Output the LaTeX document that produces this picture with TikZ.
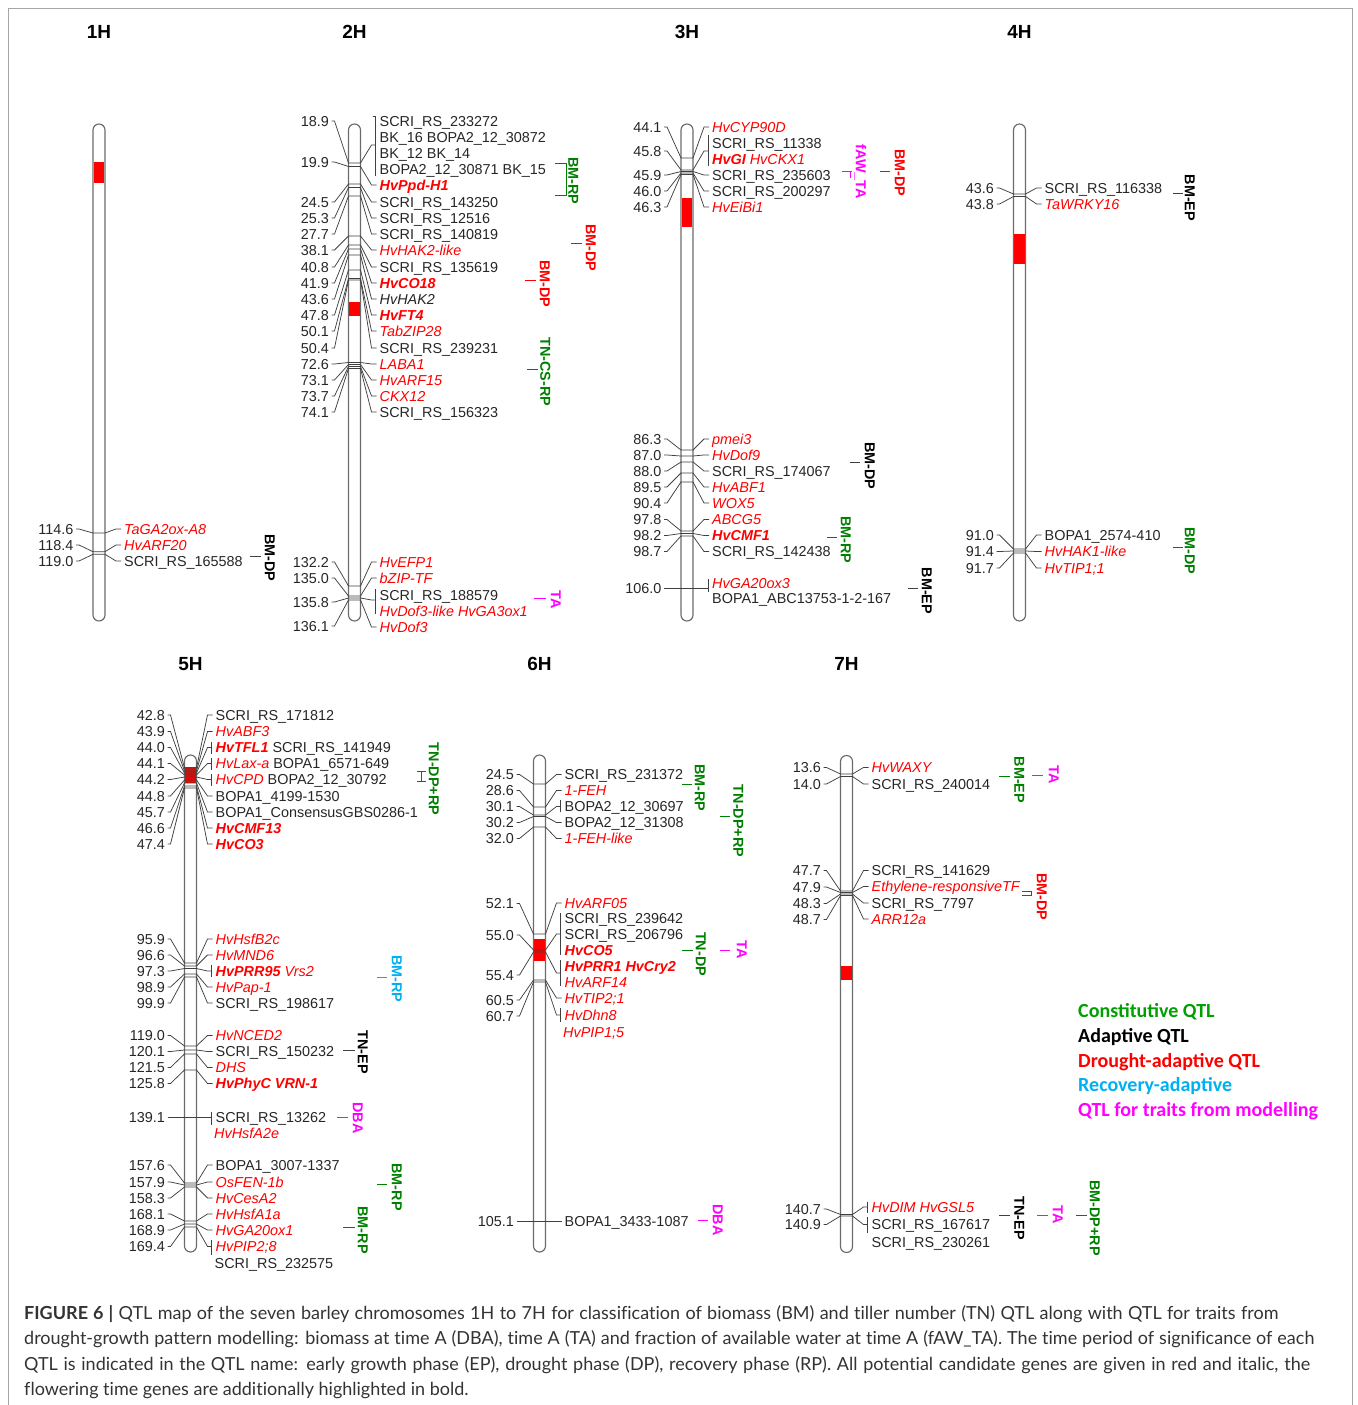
\documentclass[tikz,border=0pt]{standalone}
\usepackage{fontspec}
\setmainfont{Liberation Sans}
\newfontfamily\legfont{Carlito}
\newfontfamily\capfont[Ligatures=NoCommon]{Lato}
\definecolor{qgreen}{RGB}{0,128,0}
\definecolor{leggreen}{RGB}{0,160,0}
\definecolor{qcyan}{RGB}{0,176,240}
\definecolor{qmag}{RGB}{255,0,255}
\definecolor{conncol}{RGB}{64,64,64}
\newcommand\lf{\fontsize{14.4}{16}\selectfont}
\newcommand\lk[5]{\draw[conn] ([xshift=2.5pt]#3.east) -- ++(3,0) -- (#1-6,#2) -- (#1+6,#2) -- (#1+17,#4) -- ([xshift=-3pt]#5.west);}
\newcommand\lkb[5]{\draw[conn] ([xshift=2.5pt]#3.east) -- ++(3,0) -- (#1-6,#2) -- (#1+6,#2) -- (#1+17,#4) -- (#5);}
\newcommand\rit[1]{\textcolor{red}{\itshape #1}}
\newcommand\rbi[1]{\textcolor{red}{\bfseries\itshape #1}}
\begin{document}
\begin{tikzpicture}[x=1pt,y=-1pt,
 chrom/.style={draw=black!58, line width=1.15pt, fill=white, rounded corners=6pt, minimum width=12pt, minimum height=497pt, inner sep=0pt},
 conn/.style={draw=conncol, line width=0.75pt},
 numlab/.style={anchor=east, inner sep=0pt, font=\lf, text=black!85, text height=10.9pt, text depth=0.6pt},
 gl/.style={anchor=west, inner sep=0pt, font=\lf, text=black!85, text height=10.9pt, text depth=0.6pt},
 qtl/.style={rotate=-90, inner sep=0pt, font=\lf\bfseries, text height=10.9pt, text depth=0.6pt},
 head/.style={inner sep=0pt, font=\fontsize{19}{22}\selectfont\bfseries, text height=14.2pt, text depth=0.6pt},
 qs/.style={line width=0.8pt},
 leg/.style={anchor=west, inner sep=0pt, font=\fontsize{20}{24}\legfont\bfseries, text height=13.5pt, text depth=0.6pt},
 captext/.style={anchor=base west, inner sep=0pt, font=\fontsize{18}{22}\capfont, text=black!80}]
\useasboundingbox (0,0) rectangle (1357,1405);
\draw[black!35, line width=0.8pt] (8,1405) -- (8,8) -- (1352.5,8) -- (1352.5,1405);
% ---------------- headers
\node[head] (h1) at (99,32) {1H};
\node[head] (h2) at (354.5,32) {2H};
\node[head] (h3) at (687,32) {3H};
\node[head] (h4) at (1019.5,32) {4H};
\node[head] (h5) at (190.5,664) {5H};
\node[head] (h6) at (539.5,664) {6H};
\node[head] (h7) at (846.5,664) {7H};
% ---------------- chromosomes
\node[chrom] (c1) at (99,372.5) {};
\node[chrom] (c2) at (354.5,372.5) {};
\node[chrom] (c3) at (687,372.5) {};
\node[chrom] (c4) at (1019.5,372.5) {};
\node[chrom] (c5) at (190.5,1003.5) {};
\node[chrom] (c6) at (539.5,1003.5) {};
\node[chrom] (c7) at (846.5,1004) {};
\fill[red] (93.6,162) rectangle (104.4,183);
\fill[red] (349.1,302) rectangle (359.9,316);
\fill[red] (681.6,198) rectangle (692.4,227);
\fill[red] (1014.1,234) rectangle (1024.9,264);
\fill[red] (185.1,767) rectangle (195.9,783);
\fill[red] (534.1,939) rectangle (544.9,961);
\fill[red] (841.1,966) rectangle (851.9,980);
% ================= 1H
\node[numlab] (n1a) at (73.5,529) {114.6};
\node[numlab] (n1b) at (73.5,545) {118.4};
\node[numlab] (n1c) at (73.5,561) {119.0};
\node[gl] (g1a) at (124,529) {\rit{TaGA2ox-A8}};
\node[gl] (g1b) at (124,545) {\rit{HvARF20}};
\node[gl] (g1c) at (124,561) {SCRI\_RS\_165588};
\lk{99}{533}{n1a}{529}{g1a}
\lk{99}{551.7}{n1b}{545}{g1b}
\lk{99}{554.3}{n1c}{561}{g1c}
\node[qtl] (q1a) at (270,558) {BM-DP};
\draw[qs,conncol] (250,556) -- (261,556);
% ================= 2H
\node[numlab] (n2a) at (329,121) {18.9};
\node[numlab] (n2b) at (329,162) {19.9};
\node[numlab] (n2c) at (329,202) {24.5};
\node[numlab] (n2d) at (329,218) {25.3};
\node[numlab] (n2e) at (329,234) {27.7};
\node[numlab] (n2f) at (329,250) {38.1};
\node[numlab] (n2g) at (329,267) {40.8};
\node[numlab] (n2h) at (329,283) {41.9};
\node[numlab] (n2i) at (329,299) {43.6};
\node[numlab] (n2j) at (329,315) {47.8};
\node[numlab] (n2k) at (329,331) {50.1};
\node[numlab] (n2l) at (329,348) {50.4};
\node[numlab] (n2m) at (329,364) {72.6};
\node[numlab] (n2n) at (329,380) {73.1};
\node[numlab] (n2o) at (329,396) {73.7};
\node[numlab] (n2p) at (329,412) {74.1};
\node[numlab] (n2q) at (329,562) {132.2};
\node[numlab] (n2r) at (329,578) {135.0};
\node[numlab] (n2s) at (329,602) {135.8};
\node[numlab] (n2t) at (329,626) {136.1};
\node[gl] (g2a) at (379.5,121) {SCRI\_RS\_233272};
\node[gl] (g2b) at (379.5,137) {BK\_16 BOPA2\_12\_30872};
\node[gl] (g2c) at (379.5,153) {BK\_12 BK\_14};
\node[gl] (g2d) at (379.5,169) {BOPA2\_12\_30871 BK\_15};
\node[gl] (g2e) at (379.5,185) {\rbi{HvPpd-H1}};
\node[gl] (g2f) at (379.5,202) {SCRI\_RS\_143250};
\node[gl] (g2g) at (379.5,218) {SCRI\_RS\_12516};
\node[gl] (g2h) at (379.5,234) {SCRI\_RS\_140819};
\node[gl] (g2i) at (379.5,250) {\rit{HvHAK2-like}};
\node[gl] (g2j) at (379.5,267) {SCRI\_RS\_135619};
\node[gl] (g2k) at (379.5,283) {\rbi{HvCO18}};
\node[gl] (g2l) at (379.5,299) {\itshape HvHAK2};
\node[gl] (g2m) at (379.5,315) {\rbi{HvFT4}};
\node[gl] (g2n) at (379.5,331) {\rit{TabZIP28}};
\node[gl] (g2o) at (379.5,348) {SCRI\_RS\_239231};
\node[gl] (g2p) at (379.5,364) {\rit{LABA1}};
\node[gl] (g2q) at (379.5,380) {\rit{HvARF15}};
\node[gl] (g2r) at (379.5,396) {\rit{CKX12}};
\node[gl] (g2s) at (379.5,412) {SCRI\_RS\_156323};
\node[gl] (g2t) at (379.5,562) {\rit{HvEFP1}};
\node[gl] (g2u) at (379.5,578) {\rit{bZIP-TF}};
\node[gl] (g2v) at (379.5,595) {SCRI\_RS\_188579};
\node[gl] (g2w) at (379.5,611) {\rit{HvDof3-like HvGA3ox1}};
\node[gl] (g2x) at (379.5,627) {\rit{HvDof3}};
\coordinate (b2a) at (375.5,145);
\coordinate (b2b) at (375.5,600);
\draw[conn] (375.5,116) -- (375.5,176);
\draw[conn] (372.5,116) -- (375.5,116);
\draw[conn] (375.5,589) -- (375.5,614);
\lkb{354.5}{163}{n2a}{145}{b2a}
\lk{354.5}{166.5}{n2b}{185}{g2e}
\lk{354.5}{184}{n2c}{202}{g2f}
\lk{354.5}{187.5}{n2d}{218}{g2g}
\lk{354.5}{196}{n2e}{234}{g2h}
\lk{354.5}{236}{n2f}{250}{g2i}
\lk{354.5}{245}{n2g}{267}{g2j}
\lk{354.5}{249}{n2h}{283}{g2k}
\lk{354.5}{255}{n2i}{299}{g2l}
\lk{354.5}{270}{n2j}{315}{g2m}
\lk{354.5}{278.5}{n2k}{331}{g2n}
\lk{354.5}{280}{n2l}{348}{g2o}
\lk{354.5}{362.5}{n2m}{364}{g2p}
\lk{354.5}{364.5}{n2n}{380}{g2q}
\lk{354.5}{366.5}{n2o}{396}{g2r}
\lk{354.5}{368.5}{n2p}{412}{g2s}
\lk{354.5}{586}{n2q}{562}{g2t}
\lk{354.5}{596}{n2r}{578}{g2u}
\lkb{354.5}{598}{n2s}{600}{b2b}
\lk{354.5}{600}{n2t}{627}{g2x}
\draw[qs,qgreen] (555,163.3) -- (566,163.3) -- (566,195.7) -- (555,195.7);
\node[qtl,text=qgreen] (q2a) at (573.5,181) {BM-RP};
\draw[qs,red] (571,243) -- (582,243);
\node[qtl,text=red] (q2b) at (591,248) {BM-DP};
\draw[qs,red] (525,280) -- (536,280);
\node[qtl,text=red] (q2c) at (545,284) {BM-DP};
\draw[qs,qgreen] (527,369) -- (538,369);
\node[qtl,text=qgreen] (q2d) at (545.5,372) {TN-CS-RP};
\draw[qs,qmag] (534,598) -- (546,598);
\node[qtl,text=qmag] (q2e) at (556,600) {TA};
% ================= 3H
\node[numlab] (n3a) at (661.5,127) {44.1};
\node[numlab] (n3b) at (661.5,151) {45.8};
\node[numlab] (n3c) at (661.5,175) {45.9};
\node[numlab] (n3d) at (661.5,191) {46.0};
\node[numlab] (n3e) at (661.5,207) {46.3};
\node[numlab] (n3f) at (661.5,439) {86.3};
\node[numlab] (n3g) at (661.5,455) {87.0};
\node[numlab] (n3h) at (661.5,471) {88.0};
\node[numlab] (n3i) at (661.5,487) {89.5};
\node[numlab] (n3j) at (661.5,503) {90.4};
\node[numlab] (n3k) at (661.5,519.5) {97.8};
\node[numlab] (n3l) at (661.5,535.5) {98.2};
\node[numlab] (n3m) at (661.5,551.5) {98.7};
\node[numlab] (n3n) at (661.5,588.5) {106.0};
\node[gl] (g3a) at (712,127) {\rit{HvCYP90D}};
\node[gl] (g3b) at (712,143) {SCRI\_RS\_11338};
\node[gl] (g3c) at (712,159) {\rbi{HvGI} \rit{HvCKX1}};
\node[gl] (g3d) at (712,175) {SCRI\_RS\_235603};
\node[gl] (g3e) at (712,191) {SCRI\_RS\_200297};
\node[gl] (g3f) at (712,207) {\rit{HvEiBi1}};
\node[gl] (g3g) at (712,439) {\rit{pmei3}};
\node[gl] (g3h) at (712,455) {\rit{HvDof9}};
\node[gl] (g3i) at (712,471) {SCRI\_RS\_174067};
\node[gl] (g3j) at (712,487) {\rit{HvABF1}};
\node[gl] (g3k) at (712,503) {\rit{WOX5}};
\node[gl] (g3l) at (712,519.5) {\rit{ABCG5}};
\node[gl] (g3m) at (712,535.5) {\rbi{HvCMF1}};
\node[gl] (g3n) at (712,551.5) {SCRI\_RS\_142438};
\node[gl] (g3o) at (712,583) {\rit{HvGA20ox3}};
\node[gl] (g3p) at (712,598.5) {BOPA1\_ABC13753-1-2-167};
\coordinate (b3a) at (708,151);
\coordinate (b3b) at (708,588.5);
\draw[conn] (708,135) -- (708,166);
\draw[conn] (708,579) -- (708,592);
\lk{687}{158}{n3a}{127}{g3a}
\lkb{687}{170}{n3b}{151}{b3a}
\lk{687}{171.5}{n3c}{175}{g3d}
\lk{687}{173}{n3d}{191}{g3e}
\lk{687}{174.5}{n3e}{207}{g3f}
\lk{687}{450}{n3f}{439}{g3g}
\lk{687}{456}{n3g}{455}{g3h}
\lk{687}{462}{n3h}{471}{g3i}
\lk{687}{473}{n3i}{487}{g3j}
\lk{687}{482}{n3j}{503}{g3k}
\lk{687}{531}{n3k}{519.5}{g3l}
\lk{687}{533.5}{n3l}{535.5}{g3m}
\lk{687}{536}{n3m}{551.5}{g3n}
\lkb{687}{588.5}{n3n}{588.5}{b3b}
\draw[qs,qmag] (842,171) -- (852,171);
\draw[qs,qmag] (850,171) -- (850,178);
\node[qtl,text=qmag] (q3a) at (861,172) {fAW\_TA};
\draw[qs,red] (880,171) -- (890,171);
\node[qtl,text=red] (q3b) at (900,173) {BM-DP};
\draw[qs,conncol] (850,462) -- (860,462);
\node[qtl] (q3c) at (870,466) {BM-DP};
\draw[qs,qgreen] (827,537) -- (837,537);
\node[qtl,text=qgreen] (q3d) at (846,540) {BM-RP};
\draw[qs,conncol] (908,588) -- (918,588);
\node[qtl] (q3e) at (927,591) {BM-EP};
% ================= 4H
\node[numlab] (n4a) at (994,188) {43.6};
\node[numlab] (n4b) at (994,204) {43.8};
\node[numlab] (n4c) at (994,535) {91.0};
\node[numlab] (n4d) at (994,551.5) {91.4};
\node[numlab] (n4e) at (994,568) {91.7};
\node[gl] (g4a) at (1044.5,188) {SCRI\_RS\_116338};
\node[gl] (g4b) at (1044.5,204) {\rit{TaWRKY16}};
\node[gl] (g4c) at (1044.5,535) {BOPA1\_2574-410};
\node[gl] (g4d) at (1044.5,551.5) {\rit{HvHAK1-like}};
\node[gl] (g4e) at (1044.5,568) {\rit{HvTIP1;1}};
\lk{1019.5}{194}{n4a}{188}{g4a}
\lk{1019.5}{196.5}{n4b}{204}{g4b}
\lk{1019.5}{549}{n4c}{535}{g4c}
\lk{1019.5}{551}{n4d}{551.5}{g4d}
\lk{1019.5}{553}{n4e}{568}{g4e}
\draw[qs,conncol] (1173,193) -- (1183,193);
\node[qtl] (q4a) at (1190,198) {BM-EP};
\draw[qs,qgreen] (1173,547) -- (1183,547);
\node[qtl,text=qgreen] (q4b) at (1190,551) {BM-DP};
% ================= 5H
\node[numlab] (n5a) at (165,715) {42.8};
\node[numlab] (n5b) at (165,731.5) {43.9};
\node[numlab] (n5c) at (165,747.5) {44.0};
\node[numlab] (n5d) at (165,763.5) {44.1};
\node[numlab] (n5e) at (165,779.5) {44.2};
\node[numlab] (n5f) at (165,796) {44.8};
\node[numlab] (n5g) at (165,812) {45.7};
\node[numlab] (n5h) at (165,828) {46.6};
\node[numlab] (n5i) at (165,844) {47.4};
\node[numlab] (n5j) at (165,939) {95.9};
\node[numlab] (n5k) at (165,955) {96.6};
\node[numlab] (n5l) at (165,971) {97.3};
\node[numlab] (n5m) at (165,987) {98.9};
\node[numlab] (n5n) at (165,1003) {99.9};
\node[numlab] (n5o) at (165,1035.5) {119.0};
\node[numlab] (n5p) at (165,1051.5) {120.1};
\node[numlab] (n5q) at (165,1067.5) {121.5};
\node[numlab] (n5r) at (165,1083.5) {125.8};
\node[numlab] (n5s) at (165,1117.5) {139.1};
\node[numlab] (n5u) at (165,1165) {157.6};
\node[numlab] (n5v) at (165,1182) {157.9};
\node[numlab] (n5w) at (165,1198) {158.3};
\node[numlab] (n5x) at (165,1214) {168.1};
\node[numlab] (n5y) at (165,1230) {168.9};
\node[numlab] (n5z) at (165,1246.5) {169.4};
\node[gl] (g5a) at (215.5,715) {SCRI\_RS\_171812};
\node[gl] (g5b) at (215.5,731.5) {\rit{HvABF3}};
\node[gl] (g5c) at (215.5,747.5) {\rbi{HvTFL1} SCRI\_RS\_141949};
\node[gl] (g5d) at (215.5,763.5) {\rit{HvLax-a} BOPA1\_6571-649};
\node[gl] (g5e) at (215.5,779.5) {\rit{HvCPD} BOPA2\_12\_30792};
\node[gl] (g5f) at (215.5,796) {BOPA1\_4199-1530};
\node[gl] (g5g) at (215.5,812) {BOPA1\_ConsensusGBS0286-1};
\node[gl] (g5h) at (215.5,828) {\rbi{HvCMF13}};
\node[gl] (g5i) at (215.5,844) {\rbi{HvCO3}};
\node[gl] (g5j) at (215.5,939) {\rit{HvHsfB2c}};
\node[gl] (g5k) at (215.5,955) {\rit{HvMND6}};
\node[gl] (g5l) at (215.5,971) {\rbi{HvPRR95} \rit{Vrs2}};
\node[gl] (g5m) at (215.5,987) {\rit{HvPap-1}};
\node[gl] (g5n) at (215.5,1003) {SCRI\_RS\_198617};
\node[gl] (g5o) at (215.5,1035.5) {\rit{HvNCED2}};
\node[gl] (g5p) at (215.5,1051.5) {SCRI\_RS\_150232};
\node[gl] (g5q) at (215.5,1067.5) {\rit{DHS}};
\node[gl] (g5r) at (215.5,1083.5) {\rbi{HvPhyC VRN-1}};
\node[gl] (g5s) at (215.5,1117.5) {SCRI\_RS\_13262};
\node[gl] (g5t) at (214,1133.5) {\rit{HvHsfA2e}};
\node[gl] (g5u) at (215.5,1165) {BOPA1\_3007-1337};
\node[gl] (g5v) at (215.5,1182) {\rit{OsFEN-1b}};
\node[gl] (g5w) at (215.5,1198) {\rit{HvCesA2}};
\node[gl] (g5x) at (215.5,1214) {\rit{HvHsfA1a}};
\node[gl] (g5y) at (215.5,1230) {\rit{HvGA20ox1}};
\node[gl] (g5z) at (215.5,1246.5) {\rit{HvPIP2;8}};
\node[gl] (g5zz) at (214.5,1263) {SCRI\_RS\_232575};
\coordinate (b5c) at (211,747.5);
\coordinate (b5d) at (211,763.5);
\coordinate (b5e) at (211,779.5);
\coordinate (b5l) at (211,971);
\coordinate (b5s) at (211,1117.5);
\coordinate (b5z) at (211,1246.5);
\draw[conn] (211,741.5) -- (211,753.5);
\draw[conn] (211,757.5) -- (211,769.5);
\draw[conn] (211,773.5) -- (211,785.5);
\draw[conn] (211,965) -- (211,977);
\draw[conn] (211,1112) -- (211,1125);
\draw[conn] (211,1240) -- (211,1255);
\lk{190.5}{768}{n5a}{715}{g5a}
\lk{190.5}{771}{n5b}{731.5}{g5b}
\lkb{190.5}{773}{n5c}{747.5}{b5c}
\lkb{190.5}{775}{n5d}{763.5}{b5d}
\lkb{190.5}{777}{n5e}{779.5}{b5e}
\lk{190.5}{780}{n5f}{796}{g5f}
\lk{190.5}{783}{n5g}{812}{g5g}
\lk{190.5}{786}{n5h}{828}{g5h}
\lk{190.5}{788}{n5i}{844}{g5i}
\lk{190.5}{963}{n5j}{939}{g5j}
\lk{190.5}{966}{n5k}{955}{g5k}
\lkb{190.5}{968.5}{n5l}{971}{b5l}
\lk{190.5}{974}{n5m}{987}{g5m}
\lk{190.5}{977}{n5n}{1003}{g5n}
\lk{190.5}{1046}{n5o}{1035.5}{g5o}
\lk{190.5}{1050}{n5p}{1051.5}{g5p}
\lk{190.5}{1054}{n5q}{1067.5}{g5q}
\lk{190.5}{1070}{n5r}{1083.5}{g5r}
\lkb{190.5}{1117.5}{n5s}{1117.5}{b5s}
\lk{190.5}{1183}{n5u}{1165}{g5u}
\lk{190.5}{1185}{n5v}{1182}{g5v}
\lk{190.5}{1187}{n5w}{1198}{g5w}
\lk{190.5}{1221}{n5x}{1214}{g5x}
\lk{190.5}{1224}{n5y}{1230}{g5y}
\lkb{190.5}{1227}{n5z}{1246.5}{b5z}
\draw[qs,qgreen] (417,771) -- (426,771) (421.5,771) -- (421.5,781) (417,781) -- (426,781);
\node[qtl,text=qgreen] (q5a) at (434,779) {TN-DP+RP};
\draw[qs,qcyan] (377,977) -- (387,977);
\node[qtl,text=qcyan] (q5b) at (397,979) {BM-RP};
\draw[qs,conncol] (343,1050) -- (355,1050);
\node[qtl] (q5c) at (363,1052) {TN-EP};
\draw[qs,qmag] (337,1117.5) -- (348,1117.5);
\node[qtl,text=qmag] (q5d) at (358,1118) {DBA};
\draw[qs,qgreen] (377,1184) -- (387,1184);
\node[qtl,text=qgreen] (q5e) at (397,1187) {BM-RP};
\draw[qs,qgreen] (343,1227) -- (355,1227);
\node[qtl,text=qgreen] (q5f) at (363,1230) {BM-RP};
% ================= 6H
\node[numlab] (n6a) at (514,774.5) {24.5};
\node[numlab] (n6b) at (514,790.5) {28.6};
\node[numlab] (n6c) at (514,806.5) {30.1};
\node[numlab] (n6d) at (514,822.5) {30.2};
\node[numlab] (n6e) at (514,838.5) {32.0};
\node[numlab] (n6f) at (514,903.5) {52.1};
\node[numlab] (n6g) at (514,935) {55.0};
\node[numlab] (n6j) at (514,975) {55.4};
\node[numlab] (n6l) at (514,1000) {60.5};
\node[numlab] (n6m) at (514,1016) {60.7};
\node[numlab] (n6o) at (514,1221) {105.1};
\node[gl] (g6a) at (564.5,774.5) {SCRI\_RS\_231372};
\node[gl] (g6b) at (564.5,790.5) {\rit{1-FEH}};
\node[gl] (g6c) at (564.5,806.5) {BOPA2\_12\_30697};
\node[gl] (g6d) at (564.5,822.5) {BOPA2\_12\_31308};
\node[gl] (g6e) at (564.5,838.5) {\rit{1-FEH-like}};
\node[gl] (g6f) at (564.5,903) {\rit{HvARF05}};
\node[gl] (g6g) at (564.5,918.5) {SCRI\_RS\_239642};
\node[gl] (g6h) at (564.5,934.5) {SCRI\_RS\_206796};
\node[gl] (g6i) at (564.5,950.5) {\rbi{HvCO5}};
\node[gl] (g6j) at (564.5,966.5) {\rbi{HvPRR1 HvCry2}};
\node[gl] (g6k) at (564.5,982) {\rit{HvARF14}};
\node[gl] (g6l) at (564.5,998) {\rit{HvTIP2;1}};
\node[gl] (g6m) at (564.5,1015) {\rit{HvDhn8}};
\node[gl] (g6n) at (563,1032) {\rit{HvPIP1;5}};
\node[gl] (g6o) at (564.5,1221) {BOPA1\_3433-1087};
\coordinate (b6c) at (560.5,806.5);
\coordinate (b6g) at (560.5,934);
\coordinate (b6j) at (560.5,973);
\coordinate (b6m) at (560.5,1015);
\draw[conn] (560.5,800) -- (560.5,812);
\draw[conn] (560.5,913) -- (560.5,955);
\draw[conn] (560.5,960) -- (560.5,986);
\draw[conn] (560.5,1008) -- (560.5,1022);
\lk{539.5}{784}{n6a}{774.5}{g6a}
\lk{539.5}{807}{n6b}{790.5}{g6b}
\lkb{539.5}{815}{n6c}{806.5}{b6c}
\lk{539.5}{816.5}{n6d}{822.5}{g6d}
\lk{539.5}{827}{n6e}{838.5}{g6e}
\lk{539.5}{934}{n6f}{903}{g6f}
\lkb{539.5}{950}{n6g}{934}{b6g}
\lkb{539.5}{952}{n6j}{973}{b6j}
\lk{539.5}{980}{n6l}{998}{g6l}
\lkb{539.5}{982}{n6m}{1015}{b6m}
\lk{539.5}{1221}{n6o}{1221}{g6o}
\draw[qs,qgreen] (682,784) -- (692,784);
\node[qtl,text=qgreen] (q6a) at (700,788) {BM-RP};
\draw[qs,qgreen] (720,816) -- (730,816);
\node[qtl,text=qgreen] (q6b) at (738.5,821) {TN-DP+RP};
\draw[qs,qgreen] (682,950) -- (693,950);
\node[qtl,text=qgreen] (q6c) at (701,954) {TN-DP};
\draw[qs,qmag] (720,950) -- (730,950);
\node[qtl,text=qmag] (q6d) at (742,950) {TA};
\draw[qs,qmag] (698,1220) -- (708,1220);
\node[qtl,text=qmag] (q6e) at (718,1220) {DBA};
% ================= 7H
\node[numlab] (n7a) at (821,767.5) {13.6};
\node[numlab] (n7b) at (821,784) {14.0};
\node[numlab] (n7c) at (821,870.5) {47.7};
\node[numlab] (n7d) at (821,887) {47.9};
\node[numlab] (n7e) at (821,903.5) {48.3};
\node[numlab] (n7f) at (821,919.5) {48.7};
\node[numlab] (n7g) at (821,1209) {140.7};
\node[numlab] (n7h) at (821,1224.5) {140.9};
\node[gl] (g7a) at (871.5,767.5) {\rit{HvWAXY}};
\node[gl] (g7b) at (871.5,784) {SCRI\_RS\_240014};
\node[gl] (g7c) at (871.5,870.5) {SCRI\_RS\_141629};
\node[gl] (g7d) at (871.5,886.5) {\rit{Ethylene-responsiveTF}};
\node[gl] (g7e) at (871.5,903) {SCRI\_RS\_7797};
\node[gl] (g7f) at (871.5,919) {\rit{ARR12a}};
\node[gl] (g7g) at (871.5,1207) {\rit{HvDIM HvGSL5}};
\node[gl] (g7h) at (871.5,1224.5) {SCRI\_RS\_167617};
\node[gl] (g7i) at (871.5,1242.5) {SCRI\_RS\_230261};
\coordinate (b7g) at (867.5,1207);
\coordinate (b7h) at (867.5,1224.5);
\draw[conn] (867.5,1201.5) -- (867.5,1213);
\draw[conn] (867.5,1216.5) -- (867.5,1233);
\lk{846.5}{774}{n7a}{767.5}{g7a}
\lk{846.5}{776.5}{n7b}{784}{g7b}
\lk{846.5}{891}{n7c}{870.5}{g7c}
\lk{846.5}{892.5}{n7d}{886.5}{g7d}
\lk{846.5}{894}{n7e}{903}{g7e}
\lk{846.5}{895.5}{n7f}{919}{g7f}
\lkb{846.5}{1214.5}{n7g}{1207}{b7g}
\lkb{846.5}{1216}{n7h}{1224.5}{b7h}
\draw[qs,qgreen] (999,776.5) -- (1010,776.5);
\node[qtl,text=qgreen] (q7a) at (1019.5,780) {BM-EP};
\draw[qs,qmag] (1032,775) -- (1043,775);
\node[qtl,text=qmag] (q7b) at (1054,775) {TA};
\draw[qs,red] (1022,891) -- (1031,891) -- (1031,895) -- (1022,895);
\node[qtl,text=red] (q7c) at (1042,897) {BM-DP};
\draw[qs,conncol] (999,1215) -- (1010,1215);
\node[qtl] (q7d) at (1019.5,1218) {TN-EP};
\draw[qs,qmag] (1037,1215) -- (1048,1215);
\node[qtl,text=qmag] (q7e) at (1058,1215) {TA};
\draw[qs,qgreen] (1076,1215) -- (1087,1215);
\node[qtl,text=qgreen] (q7f) at (1095,1218) {BM-DP+RP};
% ================= legend
\node[leg,text=leggreen] (l1) at (1078,1011) {Constitutive QTL};
\node[leg,text=black] (l2) at (1078,1036) {Adaptive QTL};
\node[leg,text=red] (l3) at (1078,1061) {Drought-adaptive QTL};
\node[leg,text=qcyan] (l4) at (1078,1085) {Recovery-adaptive};
\node[leg,text=qmag] (l5) at (1078,1110) {QTL for traits from modelling};
% ================= caption
\node[captext] (t1) at (24,1319) {\makebox[1254pt][s]{{\bfseries FIGURE 6 |} QTL map of the seven barley chromosomes 1H to 7H for classification of biomass (BM) and tiller number (TN) QTL along with QTL for traits from}};
\node[captext] (t2) at (24,1344.5) {\makebox[1290pt][s]{drought-growth pattern modelling: biomass at time A (DBA), time A (TA) and fraction of available water at time A (fAW\_TA). The time period of significance of each}};
\node[captext] (t3) at (24,1370) {\makebox[1286pt][s]{QTL is indicated in the QTL name: early growth phase (EP), drought phase (DP), recovery phase (RP). All potential candidate genes are given in red and italic, the}};
\node[captext] (t4) at (24,1395) {flowering time genes are additionally highlighted in bold.};
\end{tikzpicture}
\end{document}
